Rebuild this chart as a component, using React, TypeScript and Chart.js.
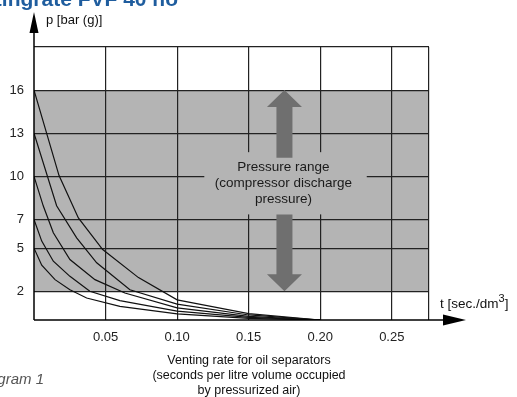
import React, { useEffect, useRef } from 'react';
import { Chart, registerables } from 'chart.js';

Chart.register(...registerables);

// ---- axes ----
const X_MAX = 0.276;
const Y_MAX = 19;
const X_TICKS = [0.05, 0.1, 0.15, 0.2, 0.25];
const Y_TICKS = [2, 5, 7, 10, 13, 16];

// ---- pressure range band and annotation ----
const BAND_MIN = 2;
const BAND_MAX = 16;
const ARROW_X = 0.175;
const UP_ARROW = [11.3, 16];
const DOWN_ARROW = [7.35, 2];
const LABEL_BOX_X = [0.119, 0.2325];
const LABEL_BOX_Y = [7.35, 11.68];
const RANGE_LABEL = ['Pressure range', '(compressor discharge', 'pressure)'];

// ---- curves (t in sec/dm3, p in bar(g)) ----
const curve16_t = [0, 0.0175, 0.031, 0.048, 0.073, 0.1, 0.15, 0.2];
const curve16_p = [16, 10.05, 7.1, 4.9, 2.95, 1.4, 0.45, 0];
const curve13_t = [0, 0.0158, 0.0298, 0.0438, 0.067, 0.1, 0.15, 0.2];
const curve13_p = [13, 7.95, 5.72, 3.98, 2.1, 1.1, 0.35, 0];
const curve10_t = [0, 0.0065, 0.0135, 0.0251, 0.0426, 0.0635, 0.1, 0.15, 0.2];
const curve10_p = [10, 7.93, 6.07, 4.21, 2.81, 1.88, 0.85, 0.25, 0];
const curve7_t = [0, 0.0054, 0.0135, 0.0251, 0.039, 0.06, 0.1, 0.15, 0.2];
const curve7_p = [7, 5.49, 4.09, 3.04, 2.0, 1.35, 0.62, 0.18, 0];
const curve5_t = [0, 0.0054, 0.0147, 0.0251, 0.0368, 0.06, 0.1, 0.15, 0.2];
const curve5_p = [5, 3.81, 2.81, 2.11, 1.53, 0.95, 0.42, 0.12, 0];

const CURVES = [
  [curve16_t, curve16_p],
  [curve13_t, curve13_p],
  [curve10_t, curve10_p],
  [curve7_t, curve7_p],
  [curve5_t, curve5_p],
];

const FONT = "'Liberation Sans', Arial, Helvetica, sans-serif";
const BAND_COLOR = '#b4b4b4';
const ARROW_COLOR = '#6f6f6f';
const GRID_COLOR = '#222222';

const decor = {
  id: 'decor',
  beforeDraw(chart: any) {
    const { ctx, chartArea: a, scales } = chart;
    const y = scales.y;
    ctx.save();
    ctx.fillStyle = '#ffffff';
    ctx.fillRect(0, 0, chart.width, chart.height);
    const yt = y.getPixelForValue(BAND_MAX);
    const yb = y.getPixelForValue(BAND_MIN);
    ctx.fillStyle = BAND_COLOR;
    ctx.fillRect(a.left, yt, a.right - a.left, yb - yt);
    ctx.restore();
  },
  beforeDatasetsDraw(chart: any) {
    const { ctx, scales } = chart;
    const x = scales.x;
    const y = scales.y;
    ctx.save();
    // label box covering grid
    const bx0 = x.getPixelForValue(LABEL_BOX_X[0]);
    const bx1 = x.getPixelForValue(LABEL_BOX_X[1]);
    const by0 = y.getPixelForValue(LABEL_BOX_Y[1]);
    const by1 = y.getPixelForValue(LABEL_BOX_Y[0]);
    ctx.fillStyle = BAND_COLOR;
    ctx.fillRect(bx0, by0, bx1 - bx0, by1 - by0);

    const cx = x.getPixelForValue(ARROW_X);
    const shaftHalf = 8;
    const headHalf = 17.5;
    const headLen = 17;
    ctx.fillStyle = ARROW_COLOR;
    // up arrow
    const uTip = y.getPixelForValue(UP_ARROW[1]);
    const uBase = y.getPixelForValue(UP_ARROW[0]);
    ctx.beginPath();
    ctx.moveTo(cx, uTip);
    ctx.lineTo(cx + headHalf, uTip + headLen);
    ctx.lineTo(cx + shaftHalf, uTip + headLen);
    ctx.lineTo(cx + shaftHalf, uBase);
    ctx.lineTo(cx - shaftHalf, uBase);
    ctx.lineTo(cx - shaftHalf, uTip + headLen);
    ctx.lineTo(cx - headHalf, uTip + headLen);
    ctx.closePath();
    ctx.fill();
    // down arrow
    const dTop = y.getPixelForValue(DOWN_ARROW[0]);
    const dTip = y.getPixelForValue(DOWN_ARROW[1]);
    ctx.beginPath();
    ctx.moveTo(cx, dTip);
    ctx.lineTo(cx + headHalf, dTip - headLen);
    ctx.lineTo(cx + shaftHalf, dTip - headLen);
    ctx.lineTo(cx + shaftHalf, dTop);
    ctx.lineTo(cx - shaftHalf, dTop);
    ctx.lineTo(cx - shaftHalf, dTip - headLen);
    ctx.lineTo(cx - headHalf, dTip - headLen);
    ctx.closePath();
    ctx.fill();

    // label text
    ctx.fillStyle = '#1a1a1a';
    ctx.font = `13.5px ${FONT}`;
    ctx.textAlign = 'center';
    ctx.textBaseline = 'middle';
    const midY = (by0 + by1) / 2;
    RANGE_LABEL.forEach((s, i) => {
      ctx.fillText(s, cx - 1, midY + (i - 1) * 16);
    });
    ctx.restore();
  },
  afterDraw(chart: any) {
    const { ctx, chartArea: a } = chart;
    ctx.save();
    ctx.strokeStyle = '#000';
    ctx.fillStyle = '#000';
    ctx.lineWidth = 1.5;
    // y axis with arrow
    ctx.beginPath();
    ctx.moveTo(a.left, a.bottom);
    ctx.lineTo(a.left, 30);
    ctx.stroke();
    ctx.beginPath();
    ctx.moveTo(a.left, 12);
    ctx.lineTo(a.left + 4.5, 33);
    ctx.lineTo(a.left - 4.5, 33);
    ctx.closePath();
    ctx.fill();
    // x axis with arrow
    ctx.beginPath();
    ctx.moveTo(a.left, a.bottom);
    ctx.lineTo(447, a.bottom);
    ctx.stroke();
    ctx.beginPath();
    ctx.moveTo(466, a.bottom);
    ctx.lineTo(443, a.bottom - 5.5);
    ctx.lineTo(443, a.bottom + 5.5);
    ctx.closePath();
    ctx.fill();

    // axis labels
    ctx.fillStyle = '#111';
    ctx.font = `13px ${FONT}`;
    ctx.textAlign = 'left';
    ctx.textBaseline = 'middle';
    ctx.fillText('p [bar (g)]', 46, 20);

    ctx.textBaseline = 'alphabetic';
    ctx.font = `13.5px ${FONT}`;
    const base = 't [sec./dm';
    ctx.fillText(base, 440, 308);
    const w1 = ctx.measureText(base).width;
    ctx.font = `11px ${FONT}`;
    ctx.fillText('3', 440 + w1, 302);
    const w2 = ctx.measureText('3').width;
    ctx.font = `13.5px ${FONT}`;
    ctx.fillText(']', 440 + w1 + w2, 308);

    // x axis title
    ctx.font = `12.5px ${FONT}`;
    ctx.textAlign = 'center';
    ctx.textBaseline = 'middle';
    ['Venting rate for oil separators', '(seconds per litre volume occupied', 'by pressurized air)'].forEach(
      (s, i) => ctx.fillText(s, 249, 361 + i * 15)
    );

    // document fragments around the chart
    ctx.font = `bold 21px ${FONT}`;
    ctx.fillStyle = '#1f5d9e';
    ctx.textAlign = 'right';
    ctx.textBaseline = 'alphabetic';
    ctx.fillText('Ventingrate FVF 40 no', 178, 6);

    ctx.font = `italic 15px ${FONT}`;
    ctx.fillStyle = '#555';
    ctx.textAlign = 'right';
    ctx.textBaseline = 'middle';
    ctx.fillText('Diagram 1', 44, 380);
    ctx.restore();
  },
};

export default function App() {
  const ref = useRef<HTMLCanvasElement | null>(null);

  useEffect(() => {
    if (!ref.current) return;
    const datasets = CURVES.map(([t, p]) => ({
      data: t.map((v, i) => ({ x: v, y: p[i] })),
      borderColor: '#111',
      borderWidth: 1.2,
      pointRadius: 0,
      tension: 0,
      fill: false,
    }));
    const chart = new Chart(ref.current, {
      type: 'line',
      data: { datasets },
      options: {
        animation: false,
        responsive: false,
        devicePixelRatio: 1,
        layout: { padding: { top: 47, right: 88, left: 0, bottom: 0 } },
        plugins: { legend: { display: false }, tooltip: { enabled: false } },
        scales: {
          x: {
            type: 'linear',
            min: 0,
            max: X_MAX,
            afterBuildTicks: (s: any) => {
              s.ticks = [...X_TICKS, X_MAX].map((v) => ({ value: v }));
            },
            afterFit: (s: any) => {
              s.height = 77;
            },
            ticks: {
              padding: 10,
              color: '#222',
              font: { family: FONT, size: 13 },
              maxRotation: 0,
              autoSkip: false,
              callback: (v: any) => (X_TICKS.includes(v) ? Number(v).toFixed(2) : ''),
            },
            grid: { color: GRID_COLOR, lineWidth: 1.2, drawTicks: false },
            border: { display: false },
          },
          y: {
            type: 'linear',
            min: 0,
            max: Y_MAX,
            afterBuildTicks: (s: any) => {
              s.ticks = [...Y_TICKS, Y_MAX].map((v) => ({ value: v }));
            },
            afterFit: (s: any) => {
              s.width = 34;
            },
            ticks: {
              padding: 10,
              color: '#222',
              font: { family: FONT, size: 13 },
              autoSkip: false,
              callback: (v: any) => (Y_TICKS.includes(v) ? String(v) : ''),
            },
            grid: { color: GRID_COLOR, lineWidth: 1.2, drawTicks: false },
            border: { display: false },
          },
        },
      },
      plugins: [decor],
    });
    return () => chart.destroy();
  }, []);

  return (
    <div style={{ position: 'fixed', left: 0, top: 0, width: 517, height: 397, background: '#fff' }}>
      <canvas ref={ref} width={517} height={397} style={{ display: 'block', width: 517, height: 397 }} />
    </div>
  );
}
